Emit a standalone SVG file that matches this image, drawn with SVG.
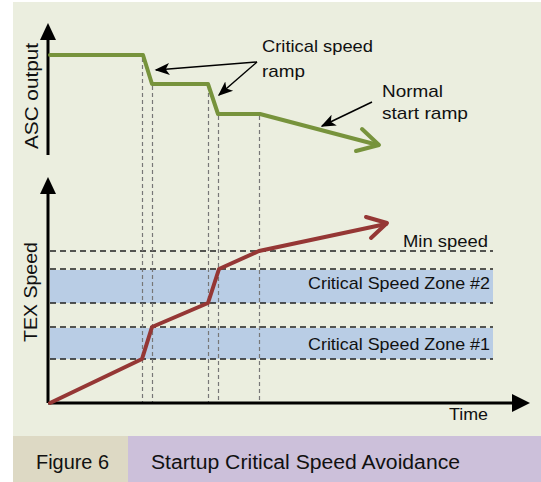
<svg xmlns="http://www.w3.org/2000/svg" width="541" height="482" viewBox="0 0 541 482">
<style>
text{font-family:"Liberation Sans",Arial,sans-serif;fill:#111;}
.lbl{font-size:17px;}
.axl{font-size:18px;}
.cap{font-size:19.5px;}
.hd{stroke:#222;stroke-width:1.6;stroke-dasharray:6,4;fill:none;}
.vd{stroke:#777;stroke-width:1.2;stroke-dasharray:4,3;fill:none;}
.ax{stroke:#000;stroke-width:3;fill:none;}
.grn{stroke:#77933c;stroke-width:4;fill:none;stroke-linejoin:round;stroke-linecap:round;}
.red{stroke:#953735;stroke-width:4;fill:none;stroke-linejoin:round;stroke-linecap:round;}
.pt{stroke:#000;stroke-width:1.5;fill:none;}
</style>
<defs>
<marker id="ah2" viewBox="0 0 10 10" refX="9" refY="5" markerWidth="15" markerHeight="15" markerUnits="userSpaceOnUse" orient="auto"><path d="M0,1 L10,5 L0,9 L2.5,5 Z" fill="#000"/></marker>
</defs>
<rect x="0" y="0" width="541" height="482" fill="#fff"/>
<rect x="13" y="2" width="528" height="434" fill="#ebeedf"/>
<g id="caption">
<rect x="13" y="436" width="115" height="46" fill="#ddd9c4"/>
<rect x="128" y="436" width="413" height="46" fill="#ccc0da"/>
<text class="cap" x="36" y="469" textLength="73" lengthAdjust="spacingAndGlyphs">Figure 6</text>
<text class="cap" x="151" y="469" textLength="309" lengthAdjust="spacingAndGlyphs">Startup Critical Speed Avoidance</text>
</g>
<g id="zones">
<rect x="50" y="270" width="443" height="33" fill="#b9cde5"/>
<rect x="50" y="328" width="443" height="31" fill="#b9cde5"/>
</g>
<g id="guides">
<path class="hd" d="M50,251H493M50,269H493M50,303H493M50,327H493M50,359H493"/>
<path class="vd" d="M142.5,58V403M152.5,86V403M208.5,86V403M218.5,116V403M259.5,116V403"/>
</g>
<g id="axes">
<path class="ax" d="M48,155V38"/>
<path d="M40,40L48,23L56,40Z" fill="#000"/>
<path class="ax" d="M48,403V192"/>
<path d="M40,194L48,177L56,194Z" fill="#000"/>
<path class="ax" d="M48,403H514"/>
<path d="M512,394L530,403L512,412Z" fill="#000"/>
<text class="axl" transform="translate(38,149) rotate(-90)" textLength="106" lengthAdjust="spacingAndGlyphs">ASC output</text>
<text class="axl" transform="translate(37,342) rotate(-90)" textLength="100" lengthAdjust="spacingAndGlyphs">TEX Speed</text>
<text class="lbl" x="449" y="420" textLength="39" lengthAdjust="spacingAndGlyphs">Time</text>
</g>
<g id="asc-curve">
<path class="grn" d="M50,55H143L152,84H208L218,114H260L378,145"/>
<path class="grn" d="M362,129L379,145L356,151"/>
</g>
<g id="tex-curve">
<path class="red" d="M50,403L142,359L152,327L208,303L219,269L259,251L386,224"/>
<path class="red" d="M366,217L387,223L371,238"/>
</g>
<g id="labels">
<text class="lbl" x="262" y="52" textLength="111" lengthAdjust="spacingAndGlyphs">Critical speed</text>
<text class="lbl" x="262" y="77" textLength="43" lengthAdjust="spacingAndGlyphs">ramp</text>
<text class="lbl" x="382" y="97" textLength="61" lengthAdjust="spacingAndGlyphs">Normal</text>
<text class="lbl" x="382" y="119" textLength="86" lengthAdjust="spacingAndGlyphs">start ramp</text>
<text class="lbl" x="403" y="247" textLength="85" lengthAdjust="spacingAndGlyphs">Min speed</text>
<text class="lbl" x="308" y="289" textLength="182" lengthAdjust="spacingAndGlyphs">Critical Speed Zone #2</text>
<text class="lbl" x="308" y="350" textLength="182" lengthAdjust="spacingAndGlyphs">Critical Speed Zone #1</text>
</g>
<g id="connectors">
<path class="pt" d="M257,62L156,70" marker-end="url(#ah2)"/>
<path class="pt" d="M257,62L219,95" marker-end="url(#ah2)"/>
<path class="pt" d="M372,102L322,126" marker-end="url(#ah2)"/>
</g>
</svg>
